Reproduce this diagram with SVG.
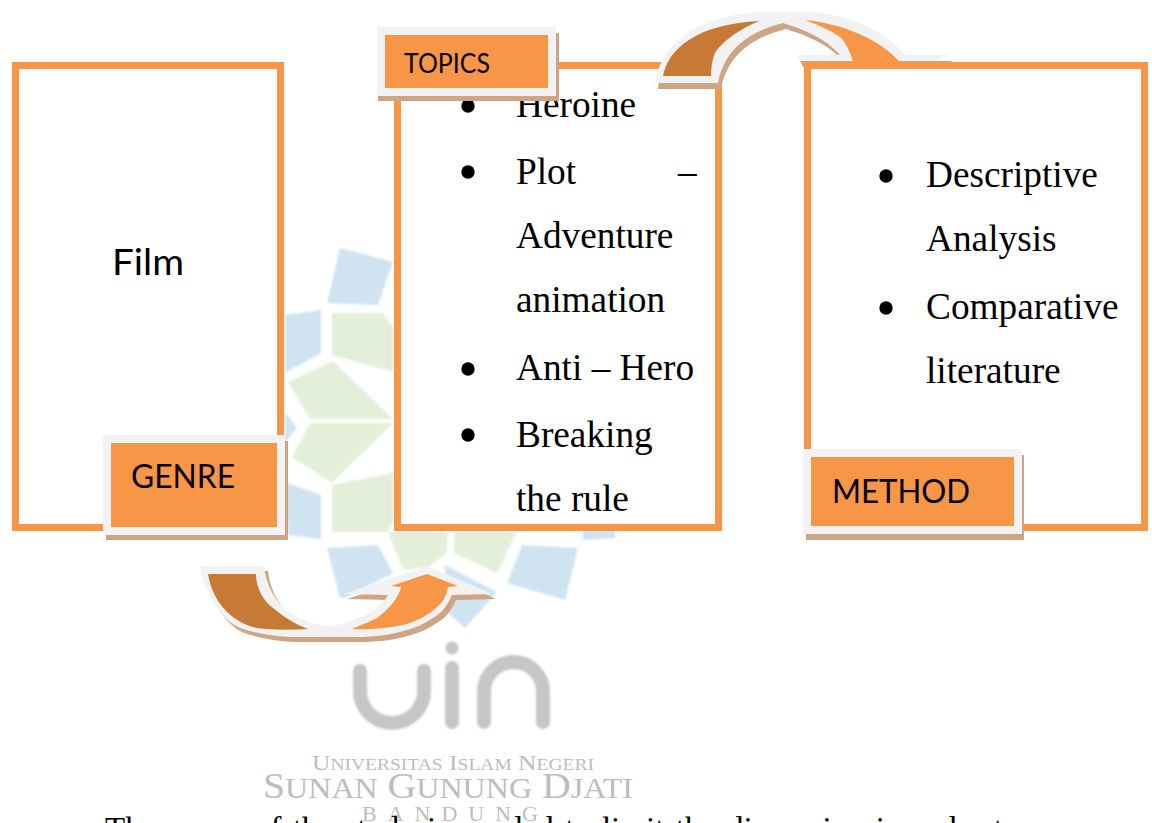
<svg xmlns="http://www.w3.org/2000/svg" width="1152" height="823" viewBox="0 0 1152 823">
<defs>
<filter id="soft" x="-5%" y="-5%" width="110%" height="110%"><feGaussianBlur stdDeviation="0.8"/></filter>
<path id="topband" d="M655 83C660 50 690 15 763 12L803 12C845 12 885 30 905 55L950 55L933 61L800 61L797 55L840 55C825 38 805 30 783 23C755 30 725 45 718 83Z"/>
<path id="botband" d="M200 566L264 566C266 585 275 602 290 613C303 621 317 625 330 626C340 625 347 623 353 620C368 615 382 606 388 595L343 594L428 566L492 594L452 595C448 604 444 609 440 613C428 622 418 627 407 630C390 635 375 637 357 637L290 637C272 636 255 633 240 628C222 620 205 595 200 566Z"/>
</defs>
<style>
.box{fill:#fff;stroke:#f79646;stroke-width:7}
.lab{fill:#f79646;stroke:#f2f2f2;stroke-width:8}
.sh{fill:#cda584}
.st{fill:#f2f2f2}
.dk{fill:#c67a36}
.or{fill:#f79646}
.ser{font-family:"Liberation Serif",serif;font-size:37.300px;fill:#000}
.san{font-family:Lato,"Liberation Sans",sans-serif;fill:#000}
.bl{fill:#cfe3f1}.gr{fill:#e4efd9}
.wm{font-family:"Liberation Serif",serif;fill:#bdbdbd}
.lg{fill:none;stroke:#c6c6c6;stroke-width:14;stroke-linecap:round}
</style>
<g id="watermark">
<g filter="url(#soft)">
<path class="bl" d="M340 248L393 262L378 305L327 303Z"/>
<path class="bl" d="M285 315L321 310L321 353L285 373Z"/>
<path class="bl" d="M285 412L297 428L285 443Z"/>
<path class="gr" d="M332 313L383 313L393 327V372L332 355Z"/>
<path class="gr" d="M288 382L333 361L393 419H310Z"/>
<path class="gr" d="M292 457L310 423H393L332 483Z"/>
<path class="gr" d="M332 485L393 473V523L387 532H332Z"/>
<path class="bl" d="M285 482L321 495V539L288 535Z"/>
<path class="bl" d="M327 548L378 545L393 573L345 598L340 598Z"/>
<path class="gr" d="M388 532H448L447 553L428 567L403 570Z"/>
<path class="gr" d="M454 532H517L497 573L454 553Z"/>
<path class="bl" d="M522 545L578 548L565 600L507 583Z"/>
<path class="bl" d="M445 565L497 592L465 628L445 610Z"/>
<path class="bl" d="M583 531H615V538L583 540Z"/>
<path class="lg" d="M360 671V691A32 32 0 0 0 424 691V671"/>
<path class="lg" d="M452 668V722"/>
<circle cx="452" cy="648" r="6.500" fill="#c6c6c6"/>
<path class="lg" d="M484 722V691.500A29.500 29.500 0 0 1 543 691.500V722"/>
</g>
<text class="wm" x="312" y="770" font-size="21" textLength="282" lengthAdjust="spacingAndGlyphs">U<tspan font-size="16">NIVERSITAS</tspan> I<tspan font-size="16">SLAM</tspan> N<tspan font-size="16">EGERI</tspan></text>
<text class="wm" x="263" y="798" font-size="36" textLength="370" lengthAdjust="spacingAndGlyphs">S<tspan font-size="29">UNAN</tspan> G<tspan font-size="29">UNUNG</tspan> D<tspan font-size="29">JATI</tspan></text>
<text class="wm" x="362" y="821" font-size="22" letter-spacing="11">BANDUNG</text>
</g>
<g id="node-film">
<rect class="box" x="15.500" y="65.500" width="265" height="462"/>
<text class="san" x="112" y="275" font-size="36" textLength="72" lengthAdjust="spacingAndGlyphs">Film</text>
</g>
<g id="node-topics">
<rect class="box" x="397.500" y="65.500" width="321" height="462"/>
<g class="ser">
<circle cx="468" cy="106" r="6.700"/><text x="516" y="117">Heroine</text>
<circle cx="468" cy="172" r="6.700"/><text x="516" y="184">Plot</text><text x="678" y="184">–</text>
<text x="516" y="248">Adventure</text><text x="516" y="312">animation</text>
<circle cx="468" cy="369" r="6.700"/><text x="516" y="380">Anti – Hero</text>
<circle cx="468" cy="435" r="6.700"/><text x="516" y="447">Breaking</text><text x="516" y="511">the rule</text>
</g>
</g>
<g id="connectors">
<g id="arrow-top">
<use href="#topband" class="sh" x="3" y="6"/>
<use href="#topband" class="st"/>
<path class="dk" d="M663 76C668 50 695 24 760 21C745 26 723 40 715 53C712 60 711 68 711 76Z"/>
<path class="or" d="M805 20C845 24 880 40 900 62H853C850 50 845 42 840 37C830 30 818 25 805 20Z"/>
</g>
<g id="arrow-bottom">
<use href="#botband" class="sh" x="4" y="5"/>
<use href="#botband" class="st"/>
<path class="dk" d="M208 574H256C256 590 265 602 273 608C285 618 297 625 308 629C290 630 272 630 257 628C230 622 212 600 208 574Z"/>
<path class="or" d="M352 629C360 625 370 622 377 618C388 610 399 598 401 587L391 586L427 574L458 586L448 587C446 598 442 603 437 607C428 616 415 622 403 625C388 628 370 630 352 629Z"/>
</g>
</g>
<g id="node-method">
<rect class="box" x="807.500" y="65.500" width="337" height="462"/>
<g class="ser">
<circle cx="886" cy="176" r="6.700"/><text x="926" y="187">Descriptive</text><text x="926" y="251">Analysis</text>
<circle cx="886" cy="308" r="6.700"/><text x="926" y="319">Comparative</text><text x="926" y="383">literature</text>
</g>
</g>
<g id="label-genre">
<rect class="sh" x="106" y="441" width="182" height="99"/>
<rect class="lab" x="107" y="439" width="174" height="92"/>
<text class="san" x="131" y="488" font-size="33" textLength="104" lengthAdjust="spacingAndGlyphs">GENRE</text>
</g>
<g id="label-topics">
<rect class="sh" x="378" y="33" width="181" height="68"/>
<rect class="lab" x="381" y="31" width="171" height="61"/>
<text class="san" x="404" y="73" font-size="27" textLength="86" lengthAdjust="spacingAndGlyphs">TOPICS</text>
</g>
<g id="label-method">
<rect class="sh" x="806" y="455" width="218" height="85"/>
<rect class="lab" x="807" y="453" width="211" height="77"/>
<text class="san" x="832" y="503" font-size="33" textLength="138" lengthAdjust="spacingAndGlyphs">METHOD</text>
</g>
<g id="caption">
<text x="105" y="840" font-family="Liberation Serif, serif" font-size="33" fill="#000" word-spacing="3">The scope of the study is needed to limit the discussion in order to</text>
</g>
</svg>
